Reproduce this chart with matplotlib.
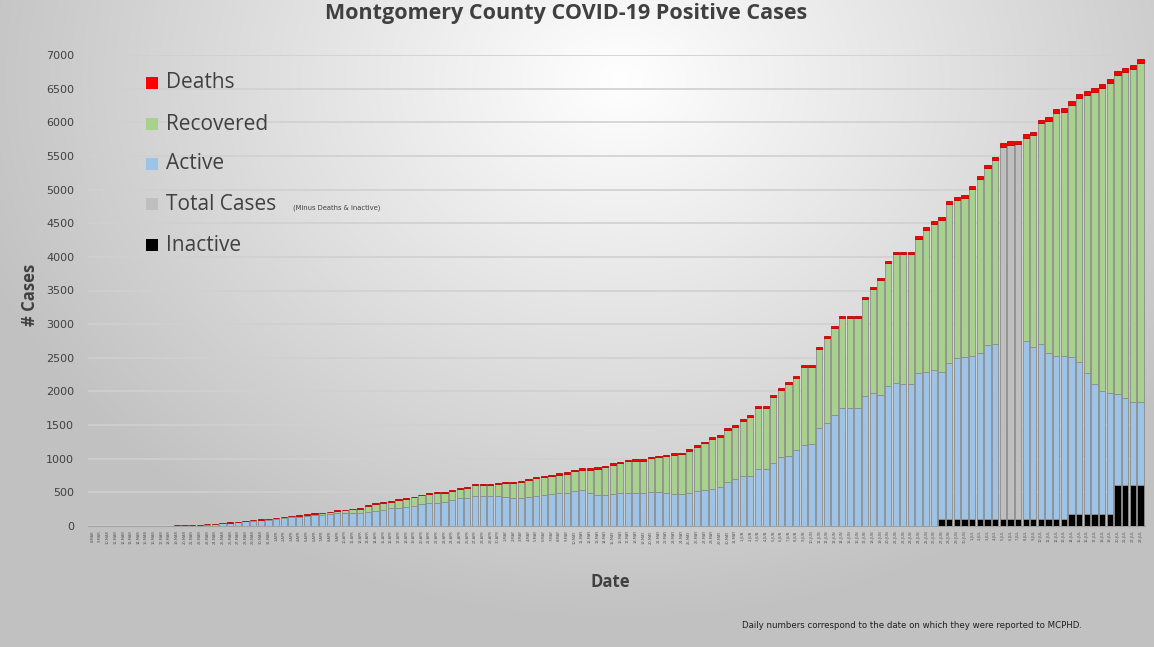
import numpy as np
import pandas as pd
import matplotlib
matplotlib.use("Agg")
import matplotlib.pyplot as plt
from matplotlib.patches import Rectangle

# ---------------- data ----------------
dates = [d.strftime("%-d-%b").upper() for d in pd.date_range("2020-03-08", periods=138)]

# top of each bar (total reported cases)
totals = [0, 0, 1, 1, 2, 2, 3, 3, 4, 5, 6, 8, 12, 15, 20, 25, 35, 45, 55, 65,
          78, 90, 100, 110, 125, 135, 150, 160, 175, 190, 200, 215, 235, 245, 255, 265, 312, 337, 361, 376,
          396, 411, 436, 466, 495, 500, 500, 535, 565, 575, 619, 619, 619, 643, 658, 658, 669, 694, 733, 748,
          762, 783, 798, 832, 857, 857, 872, 892, 931, 956, 981, 991, 991, 1030, 1045, 1055, 1080, 1090, 1140, 1204,
          1253, 1318, 1352, 1451, 1501, 1590, 1649, 1783, 1783, 1946, 2046, 2135, 2229, 2392, 2392, 2664, 2823, 2972, 3120, 3120,
          3120, 3407, 3556, 3690, 3938, 4076, 4076, 4076, 4309, 4438, 4532, 4587, 4829, 4893, 4918, 5056, 5205, 5364, 5487, 5690,
          5715, 5725, 5820, 5854, 6033, 6072, 6195, 6206, 6320, 6419, 6459, 6503, 6568, 6642, 6765, 6800, 6850, 6939]

# top of the active (blue) segment, incl. inactive below
active_top = [0, 0, 1, 1, 2, 2, 3, 3, 4, 5, 6, 8, 11, 14, 18, 22, 30, 40, 48, 57,
              68, 78, 86, 95, 108, 115, 128, 135, 148, 160, 170, 180, 192, 195, 196, 198, 212, 223, 240, 263,
              270, 287, 295, 327, 335, 346, 355, 386, 411, 411, 446, 446, 446, 446, 436, 421, 411, 426, 446, 461,
              471, 486, 486, 525, 535, 486, 461, 461, 471, 486, 486, 496, 496, 510, 510, 495, 480, 480, 495, 525,
              535, 545, 584, 658, 693, 743, 743, 842, 842, 931, 1020, 1040, 1129, 1204, 1219, 1451, 1535, 1649, 1749, 1749,
              1749, 1932, 1972, 1946, 2080, 2129, 2110, 2110, 2269, 2293, 2318, 2283, 2417, 2491, 2516, 2526, 2575, 2689, 2704, 0,
              0, 0, 2749, 2665, 2700, 2575, 2531, 2526, 2516, 2441, 2278, 2105, 2011, 1971, 1961, 1897, 1847, 1847]

deaths = ([0]*18 + [4]*10 + [8]*10 + [12]*10 + [15]*10 + [18]*10 + [22]*10 + [26]*10
          + [30]*10 + [35]*10 + [42]*10 + [50]*10 + [60]*10)

inactive = [0]*111 + [100]*17 + [178]*6 + [609]*4

gray_idx = [119, 120, 121]   # days reported only as total cases

yticks = list(range(0, 7001, 500))

# ---------------- derived segments ----------------
n = len(dates)
x = np.arange(n)
T = np.array(totals, float)
A = np.array(active_top, float)
D = np.array(deaths, float)
I = np.array(inactive, float)
G = np.zeros(n)
for k in gray_idx:
    G[k] = T[k] - D[k] - I[k]
    A[k] = I[k]
act = np.clip(A - I, 0, None)
rec = np.clip(T - D - A, 0, None)
rec[gray_idx] = 0

# ---------------- figure ----------------
W, H = 1154, 647
fig = plt.figure(figsize=(W/100, H/100), dpi=100)

# radial gradient background
bg = fig.add_axes([0, 0, 1, 1])
yy, xx = np.mgrid[0:H, 0:W]
r = np.sqrt(((xx - 620) / 700.0) ** 2 + ((yy - 80) / 560.0) ** 2)
val = np.clip(1.0 - 0.25 * r, 0.76, 1.0)
bg.imshow(np.dstack([val, val, val]), extent=[0, 1, 0, 1], aspect='auto', zorder=0)
bg.set_axis_off()

L, R = 88, 1145
ax = fig.add_axes([L/W, 1 - 526/H, (R-L)/W, (526-55)/H])
ax.patch.set_alpha(0)
ax.set_xlim(-0.6, n - 0.4)
ax.set_ylim(0, 7000)

bw = 0.82
ec = '#8c8c8c'
lw = 0.6
ax.bar(x, I, bw, color='#000000', edgecolor=ec, linewidth=lw, zorder=3)
ax.bar(x, act, bw, bottom=I, color='#9dc3e6', edgecolor=ec, linewidth=lw, zorder=3)
ax.bar(x, G, bw, bottom=I, color='#bfbfbf', edgecolor=ec, linewidth=lw, zorder=3)
ax.bar(x, rec, bw, bottom=I + act + G, color='#a9d18e', edgecolor=ec, linewidth=lw, zorder=3)
ax.bar(x, D, bw, bottom=T - D, color='#ff0000', edgecolor='#c00000', linewidth=lw, zorder=3)

ax.set_yticks(yticks)
ax.set_yticklabels([str(v) for v in yticks], fontsize=8, color='#404040')
ax.yaxis.grid(True, color='#d0d0d0', linewidth=1.2, zorder=0)
ax.set_axisbelow(True)
ax.tick_params(axis='y', length=0, pad=10)
ax.set_xticks(x)
ax.set_xticklabels(dates, rotation=90, fontsize=2.6, color='#555555')
ax.tick_params(axis='x', length=0, pad=3)
for s in ['top', 'right', 'left']:
    ax.spines[s].set_visible(False)
ax.spines['bottom'].set_color('#a0a0a0')

fig.text(30/W, 1 - 295/H, '# Cases', fontsize=12, fontweight='bold', color='#404040',
         family='Open Sans', rotation=90, ha='center', va='center')
fig.text(610/W, 1 - 582/H, 'Date', fontsize=12, fontweight='bold', color='#404040',
         family='Open Sans', ha='center', va='center')
fig.text(566/W, 1 - 13/H, 'Montgomery County COVID-19 Positive Cases', fontsize=15.5,
         fontweight='bold', color='#404040', family='Open Sans', ha='center', va='center')
fig.text(912/W, 1 - 626/H, 'Daily numbers correspond to the date on which they were reported to MCPHD.',
         fontsize=6.2, color='#202020', ha='center', va='center')

# legend
items = [('Deaths', '#ff0000', 83), ('Recovered', '#a9d18e', 124), ('Active', '#9dc3e6', 164),
         ('Total Cases', '#bfbfbf', 204), ('Inactive', '#000000', 245)]
for lab, col, yp in items:
    fig.patches.append(Rectangle((146/W, 1 - (yp + 6)/H), 12/W, 12/H, transform=fig.transFigure,
                                 facecolor=col, edgecolor='none', zorder=5))
    fig.text(166/W, 1 - yp/H, lab, fontsize=15, color='#404040', ha='left', va='center', family='Open Sans')
fig.text(293/W, 1 - 208/H, '(Minus Deaths & Inactive)', fontsize=4.9, color='#404040', ha='left', va='center')

fig.savefig('out.png', dpi=100)
